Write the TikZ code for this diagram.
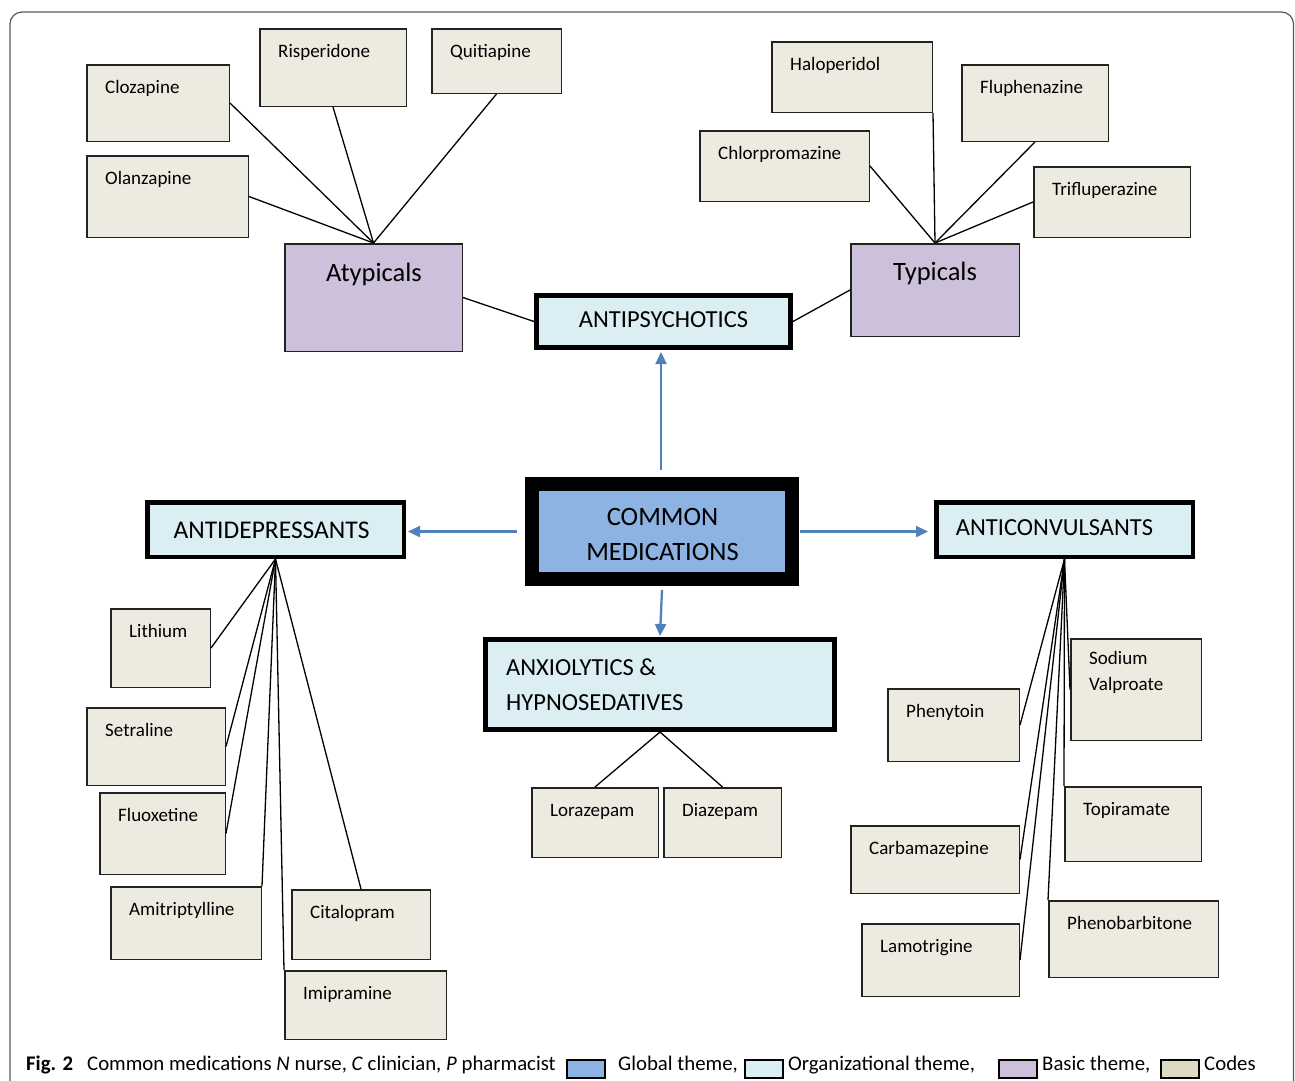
\documentclass[tikz,border=0pt]{standalone}
\usepackage{fontspec}
\setmainfont{Carlito}
\usetikzlibrary{arrows.meta,calc}
\definecolor{codefill}{HTML}{EDEBE0}
\definecolor{basicfill}{HTML}{CCC0DA}
\definecolor{orgfill}{HTML}{DAEEF3}
\definecolor{globfill}{HTML}{8DB3E2}
\definecolor{arrblue}{HTML}{4F81BD}
\definecolor{legcode}{HTML}{DDD9C3}
\definecolor{edge}{HTML}{222222}
\tikzset{
  codebox/.style={draw=edge, fill=codefill, inner sep=0pt},
  basicbox/.style={draw=edge, fill=basicfill, inner sep=0pt},
  orgbox/.style={draw=black, fill=orgfill, inner sep=0pt},
  globbox/.style={draw=black, fill=globfill, inner sep=0pt},
  codetext/.style={anchor=base west, inner sep=0pt, font=\fontsize{19}{26}\selectfont},
  basictext/.style={anchor=base, inner sep=0pt, font=\fontsize{26.5}{32}\selectfont},
  orgtext/.style={inner sep=0pt, font=\fontsize{24.5}{35}\selectfont},
  link/.style={draw=black, line width=1.3pt},
  arr/.style={draw=arrblue, line width=2.3pt, -{Triangle[length=12pt,width=11pt]}},
  legbox/.style={draw=black, line width=1.5pt, inner sep=0pt, minimum width=38pt, minimum height=18pt, anchor=north west},
  captext/.style={anchor=base west, inner sep=0pt, font=\fontsize{20.8}{24}\selectfont},
}
% #1 name, #2 style, #3 x1, #4 y1, #5 x2, #6 y2 (outer bounds), #7 line width
\newcommand\mybox[7]{\node[#2, line width=#7pt, anchor=north west,
  minimum width={(#5-#3-#7)*1pt}, minimum height={(#6-#4-#7)*1pt}] (#1) at (#3,#4) {};}
\newcommand\codenode[6]{\mybox{#1}{codebox}{#2}{#3}{#4}{#5}{1.5}%
  \node[codetext] (#1t) at ({#2+19},{#3+29}) {#6};}
\begin{document}
\begin{tikzpicture}[x=1pt,y=-1pt]
\useasboundingbox (0,0) rectangle (1295,1080);
\fill[white] (0,0) rectangle (1295,1080);
\draw[draw=black!65, line width=1.2pt, rounded corners=12pt] (10,12) rectangle (1293.5,1110);

% --- codes
\codenode{clz}{86}{64}{230}{142}{Clozapine}
\codenode{ris}{259}{28}{407}{107}{Risperidone}
\codenode{qui}{431}{28}{562}{94}{Quitiapine}
\codenode{ola}{86}{155}{249}{238}{Olanzapine}
\codenode{hal}{771}{41}{933}{113}{Haloperidol}
\codenode{flu}{961}{64}{1109}{142}{Fluphenazine}
\codenode{chl}{699}{130}{870}{202}{Chlorpromazine}
\codenode{tri}{1033}{166}{1191}{238}{Trifluperazine}
\codenode{lit}{110}{608}{211}{688}{Lithium}
\codenode{set}{86}{707}{226}{786}{Setraline}
\codenode{fluox}{99}{792}{226}{875}{Fluoxetine}
\codenode{ami}{110}{886}{262}{960}{Amitriptylline}
\codenode{cit}{291}{889}{431}{960}{Citalopram}
\codenode{imi}{284}{970}{447}{1040}{Imipramine}
\codenode{phe}{887}{688}{1020}{762}{Phenytoin}
\mybox{sod}{codebox}{1070}{638}{1202}{741}{1.5}
\node[codetext, align=left, anchor=north west] (sodt) at (1089,651) {Sodium\\Valproate};
\codenode{top}{1064}{786}{1202}{862}{Topiramate}
\codenode{car}{850}{825}{1020}{894}{Carbamazepine}
\codenode{lam}{861}{923}{1020}{997}{Lamotrigine}
\codenode{phb}{1048}{900}{1219}{978}{Phenobarbitone}
\codenode{lor}{531}{787}{659}{858}{Lorazepam}
\codenode{dia}{663}{787}{782}{858}{Diazepam}

% --- basic themes
\mybox{atyp}{basicbox}{284}{243}{463}{352}{1.5}
\node[basictext] (atypt) at (374,281) {Atypicals};
\mybox{typ}{basicbox}{850}{243}{1020}{337}{1.5}
\node[basictext] (typt) at (935,280) {Typicals};

% --- organizational themes
\mybox{ap}{orgbox}{534}{293}{793}{350}{5}
\node[orgtext] (apt) at (663.5,320) {ANTIPSYCHOTICS};
\mybox{adp}{orgbox}{145}{500}{406}{559}{4.5}
\node[orgtext, font=\fontsize{25.5}{35}\selectfont] (adpt) at (271.5,530) {ANTIDEPRESSANTS};
\mybox{acv}{orgbox}{934}{500}{1195}{559}{4.5}
\node[orgtext] (acvt) at (1054.5,528) {ANTICONVULSANTS};
\mybox{anx}{orgbox}{483}{637}{837}{732}{5}
\node[orgtext, align=left, anchor=north west] (anxt) at (506,659) {ANXIOLYTICS \&\\HYPNOSEDATIVES};

% --- global theme
\mybox{cm}{globbox}{525}{477}{799}{586}{14}
\node[orgtext, align=center, font=\fontsize{26.5}{35}\selectfont] (cmt) at (662.5,534) {COMMON\\MEDICATIONS};

% --- links
\draw[link] (atyp.north) -- (clz.east);
\draw[link] (atyp.north) -- (ris.south);
\draw[link] (atyp.north) -- (qui.south);
\draw[link] (atyp.north) -- (ola.east);
\draw[link] (atyp.east) -- (ap.west);
\draw[link] (ap.east) -- (typ.west);
\draw[link] (typ.north) -- (hal.south east);
\draw[link] (typ.north) -- (chl.east);
\draw[link] (typ.north) -- (flu.south);
\draw[link] (typ.north) -- (tri.west);

\draw[link] (adp.south) -- (lit.east);
\draw[link] (adp.south) -- (set.east);
\draw[link] (adp.south) -- (fluox.east);
\draw[link] (adp.south) -- (ami.north east);
\draw[link] (adp.south) -- (imi.north west);
\draw[link] (adp.south) -- (cit.north);

\draw[link] (acv.south) -- (phe.east);
\draw[link] (acv.south) -- (sod.west);
\draw[link] (acv.south) -- (top.north west);
\draw[link] (acv.south) -- (car.east);
\draw[link] (acv.south) -- (lam.east);
\draw[link] (acv.south) -- (phb.north west);

\draw[link] (anx.south) -- (lor.north);
\draw[link] (anx.south) -- (dia.north);

% --- arrows
\coordinate (upstart) at ([yshift=7pt,xshift=-1pt]cm.north);
\draw[arr] (upstart) -- ([yshift=-2pt]ap.south -| upstart);
\draw[arr] ([xshift=-8pt]cm.west) -- ([xshift=2pt]adp.east |- cm.west);
\draw[arr] ([xshift=1pt]cm.east) -- ([xshift=-6pt]acv.west |- cm.east);
\draw[arr] ([yshift=-4pt]cm.south) -- ([yshift=1pt]anx.north);

% --- caption
\node[captext, font=\fontsize{20.8}{24}\selectfont\bfseries] (fig) at (26,1070) {Fig. 2};
\node[captext] (capt) at (87,1070) {Common medications \textit{N} nurse, \textit{C} clinician, \textit{P} pharmacist};
\node[legbox, fill=globfill] (lg1) at (566,1059) {};
\node[captext] (lg1t) at (618,1070) {Global theme,};
\node[legbox, fill=orgfill] (lg2) at (744,1059) {};
\node[captext] (lg2t) at (788,1070) {Organizational theme,};
\node[legbox, fill=basicfill] (lg3) at (998,1059) {};
\node[captext] (lg3t) at (1042,1070) {Basic theme,};
\node[legbox, fill=legcode] (lg4) at (1160,1059) {};
\node[captext] (lg4t) at (1204,1070) {Codes};
\end{tikzpicture}
\end{document}
